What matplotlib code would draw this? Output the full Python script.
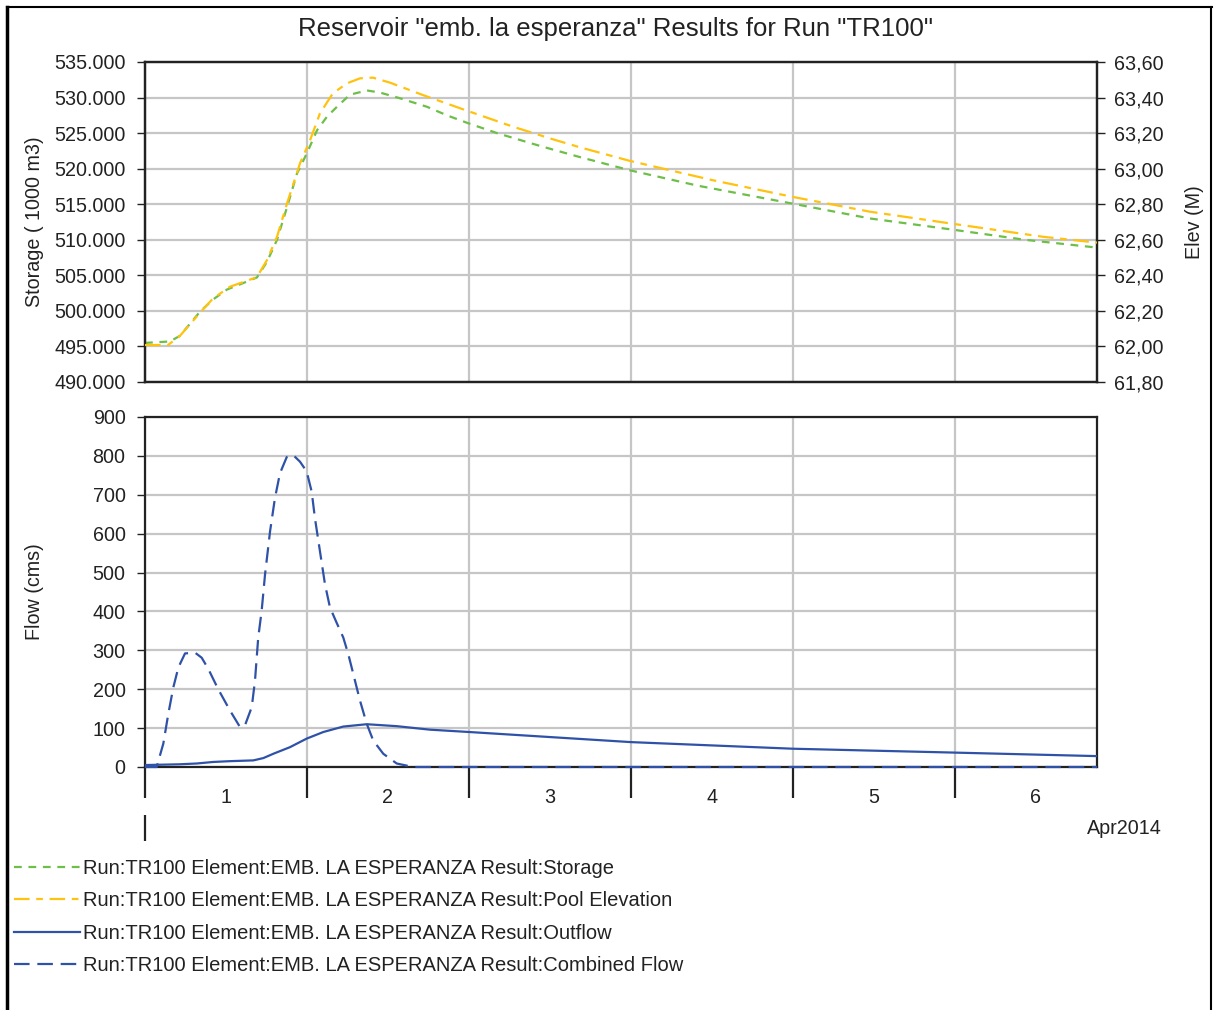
import matplotlib
matplotlib.use("Agg")
import matplotlib.pyplot as plt
from matplotlib.ticker import FixedLocator, FuncFormatter, NullFormatter
from matplotlib.lines import Line2D

plt.rcParams['font.family'] = ['Liberation Sans', 'DejaVu Sans']

# time in days since Apr 1 2014 00:00
storage_t = [0, 0.154, 0.216, 0.340, 0.420, 0.506, 0.605, 0.691, 0.753, 0.815, 0.877,
             0.938, 1.0, 1.062, 1.123, 1.185, 1.265, 1.370, 1.451, 1.574, 1.741, 1.864,
             1.994, 2.173, 2.438, 2.673, 2.988, 3.414, 3.994, 4.475, 4.994, 5.432, 5.877]
storage = [495500, 495700, 496500, 499900, 501600, 503000, 503900, 504700, 506900, 510000,
           514600, 519300, 522200, 525400, 527300, 528700, 530400, 531000, 530700, 529900,
           528700, 527500, 526400, 525000, 523200, 521700, 519800, 517600, 515100, 513000,
           511400, 510000, 508900]

elev_t = [0, 0.142, 0.216, 0.340, 0.420, 0.525, 0.630, 0.691, 0.753, 0.815, 0.877, 0.957,
          1.019, 1.080, 1.160, 1.247, 1.327, 1.407, 1.512, 1.716, 1.988, 2.272, 2.519,
          2.685, 2.988, 3.500, 3.994, 4.475, 4.994, 5.543, 5.877]
elev = [62.008, 62.008, 62.06, 62.19, 62.27, 62.336, 62.37, 62.39, 62.486, 62.617, 62.805,
        63.03, 63.16, 63.311, 63.424, 63.480, 63.508, 63.512, 63.484, 63.414, 63.326, 63.236,
        63.165, 63.120, 63.045, 62.936, 62.842, 62.758, 62.689, 62.617, 62.584]

combined_t = [0, 0.072, 0.113, 0.144, 0.175, 0.206, 0.247, 0.309, 0.350, 0.391, 0.452,
              0.525, 0.586, 0.617, 0.659, 0.679, 0.699, 0.720, 0.741, 0.772, 0.802, 0.833,
              0.875, 0.915, 0.957, 0.998, 1.029, 1.049, 1.080, 1.111, 1.142, 1.183, 1.224,
              1.255, 1.286, 1.327, 1.369, 1.409, 1.471, 1.554, 1.656, 5.877]
combined = [0, 0, 60, 137, 205, 256, 292, 294, 281, 252, 200, 145, 103, 107, 154, 222, 333,
            401, 495, 606, 691, 755, 797, 802, 785, 760, 708, 640, 555, 470, 410, 371, 333,
            290, 239, 171, 111, 68, 34, 9, 0, 0]

outflow_t = [0, 0.216, 0.319, 0.422, 0.525, 0.669, 0.731, 0.792, 0.895, 0.998, 1.101,
             1.224, 1.369, 1.554, 1.759, 2.0, 3.0, 4.0, 5.0, 5.877]
outflow = [5, 7, 9, 13, 15, 17, 23, 34, 51, 73, 90, 104, 110, 105, 96, 90, 64, 47, 37, 28]

day_bounds = [0, 1, 2, 3, 4, 5]
day_mid = [0.5, 1.5, 2.5, 3.5, 4.5, 5.5]
day_labels = ['1', '2', '3', '4', '5', '6']
storage_ticks = list(range(490000, 535001, 5000))
elev_ticks = [61.8 + 0.2 * i for i in range(10)]
flow_ticks = list(range(0, 901, 100))

green = '#6dbf48'
yellow = '#ffc20e'
blue = '#2f52a8'
grid_c = '#c6c6c6'
dark = '#222222'
fs = 14.2

W, H = 1214, 1010
fig = plt.figure(figsize=(W / 100, H / 100), dpi=100)

# frame around the figure
fig.add_artist(Line2D([7 / W, 7 / W], [0, 1 - 7 / H], transform=fig.transFigure, color='black', lw=2.5))
fig.add_artist(Line2D([7 / W, 1212 / W], [1 - 7 / H, 1 - 7 / H], transform=fig.transFigure, color='black', lw=1.5))
fig.add_artist(Line2D([1211 / W, 1211 / W], [0, 1 - 7 / H], transform=fig.transFigure, color='black', lw=1.5))

ax1 = fig.add_axes([145 / W, 1 - 382 / H, 952 / W, 320 / H])
ax2 = fig.add_axes([145 / W, 1 - 767 / H, 952 / W, 350 / H])


def style_axes(ax):
    for s in ax.spines.values():
        s.set_color(dark)
        s.set_linewidth(1.6)
    ax.set_xlim(0, 5.877)
    ax.xaxis.set_major_locator(FixedLocator(day_bounds))
    ax.grid(True, color=grid_c, lw=1.6)
    ax.set_axisbelow(True)
    ax.tick_params(axis='y', colors=dark, labelsize=fs, length=6, width=1, pad=8)


style_axes(ax1)
style_axes(ax2)

# top panel
ax1.plot(storage_t, storage, color=green, lw=1.6, dashes=(3.5, 3), zorder=3,
         label='Run:TR100 Element:EMB. LA ESPERANZA Result:Storage')
ax1.set_ylim(490000, 535000)
ax1.yaxis.set_major_locator(FixedLocator(storage_ticks))
ax1.yaxis.set_major_formatter(FuncFormatter(lambda v, p: f"{v:,.0f}".replace(",", ".")))
ax1.tick_params(axis='x', length=0, labelbottom=False)
ax1.set_ylabel('Storage ( 1000 m3)', fontsize=fs, color=dark)
ax1.yaxis.set_label_coords(-0.106, 0.5)

ax1r = ax1.twinx()
ax1r.plot(elev_t, elev, color=yellow, lw=1.6, dashes=(7, 3, 3, 3), zorder=3,
          label='Run:TR100 Element:EMB. LA ESPERANZA Result:Pool Elevation')
ax1r.set_ylim(61.8, 63.6)
ax1r.yaxis.set_major_locator(FixedLocator(elev_ticks))
ax1r.yaxis.set_major_formatter(FuncFormatter(lambda v, p: f"{v:.2f}".replace(".", ",")))
ax1r.tick_params(axis='y', colors=dark, labelsize=fs, length=6, width=1, pad=6)
ax1r.set_ylabel('Elev (M)', fontsize=fs, color=dark)
ax1r.yaxis.set_label_coords(1.092, 0.5)
for s in ax1r.spines.values():
    s.set_color(dark)
    s.set_linewidth(1.6)

# bottom panel
ax2.plot(outflow_t, outflow, color=blue, lw=1.6, zorder=3,
         label='Run:TR100 Element:EMB. LA ESPERANZA Result:Outflow')
ax2.plot(combined_t, combined, color=blue, lw=1.6, dashes=(7, 3.5), zorder=3, clip_on=False,
         label='Run:TR100 Element:EMB. LA ESPERANZA Result:Combined Flow')
ax2.set_ylim(0, 900)
ax2.yaxis.set_major_locator(FixedLocator(flow_ticks))
ax2.set_ylabel('Flow (cms)', fontsize=fs, color=dark)
ax2.yaxis.set_label_coords(-0.106, 0.5)
ax2.xaxis.set_major_formatter(NullFormatter())
ax2.xaxis.set_minor_locator(FixedLocator(day_mid))
ax2.set_xticklabels(day_labels, minor=True)
ax2.tick_params(axis='x', which='major', length=22, width=1.6, color=dark)
ax2.tick_params(axis='x', which='minor', length=0, pad=15, labelsize=fs, labelcolor=dark)

# month level tick
sec = ax2.secondary_xaxis(-0.137)
sec.spines['bottom'].set_visible(False)
sec.set_xticks([0])
sec.set_xticklabels([''])
sec.tick_params(axis='x', length=19, width=1.6, color=dark)
ax2.text(1.029, -0.175, 'Apr2014', transform=ax2.transAxes, ha='center', va='center',
         fontsize=fs, color=dark)

fig.text(616 / W, 1 - 29 / H, 'Reservoir "emb. la esperanza" Results for Run "TR100"',
         ha='center', va='center', fontsize=18.5, color=dark)

handles = ax1.get_lines() + ax1r.get_lines() + ax2.get_lines()
fig.legend(handles=handles, loc='upper left', bbox_to_anchor=(14 / W, 1 - 859 / H),
           frameon=False, fontsize=14.5, handlelength=3.3, handletextpad=0.15,
           labelspacing=0.67, borderpad=0, borderaxespad=0, labelcolor=dark)

fig.savefig('out.png', dpi=100)
